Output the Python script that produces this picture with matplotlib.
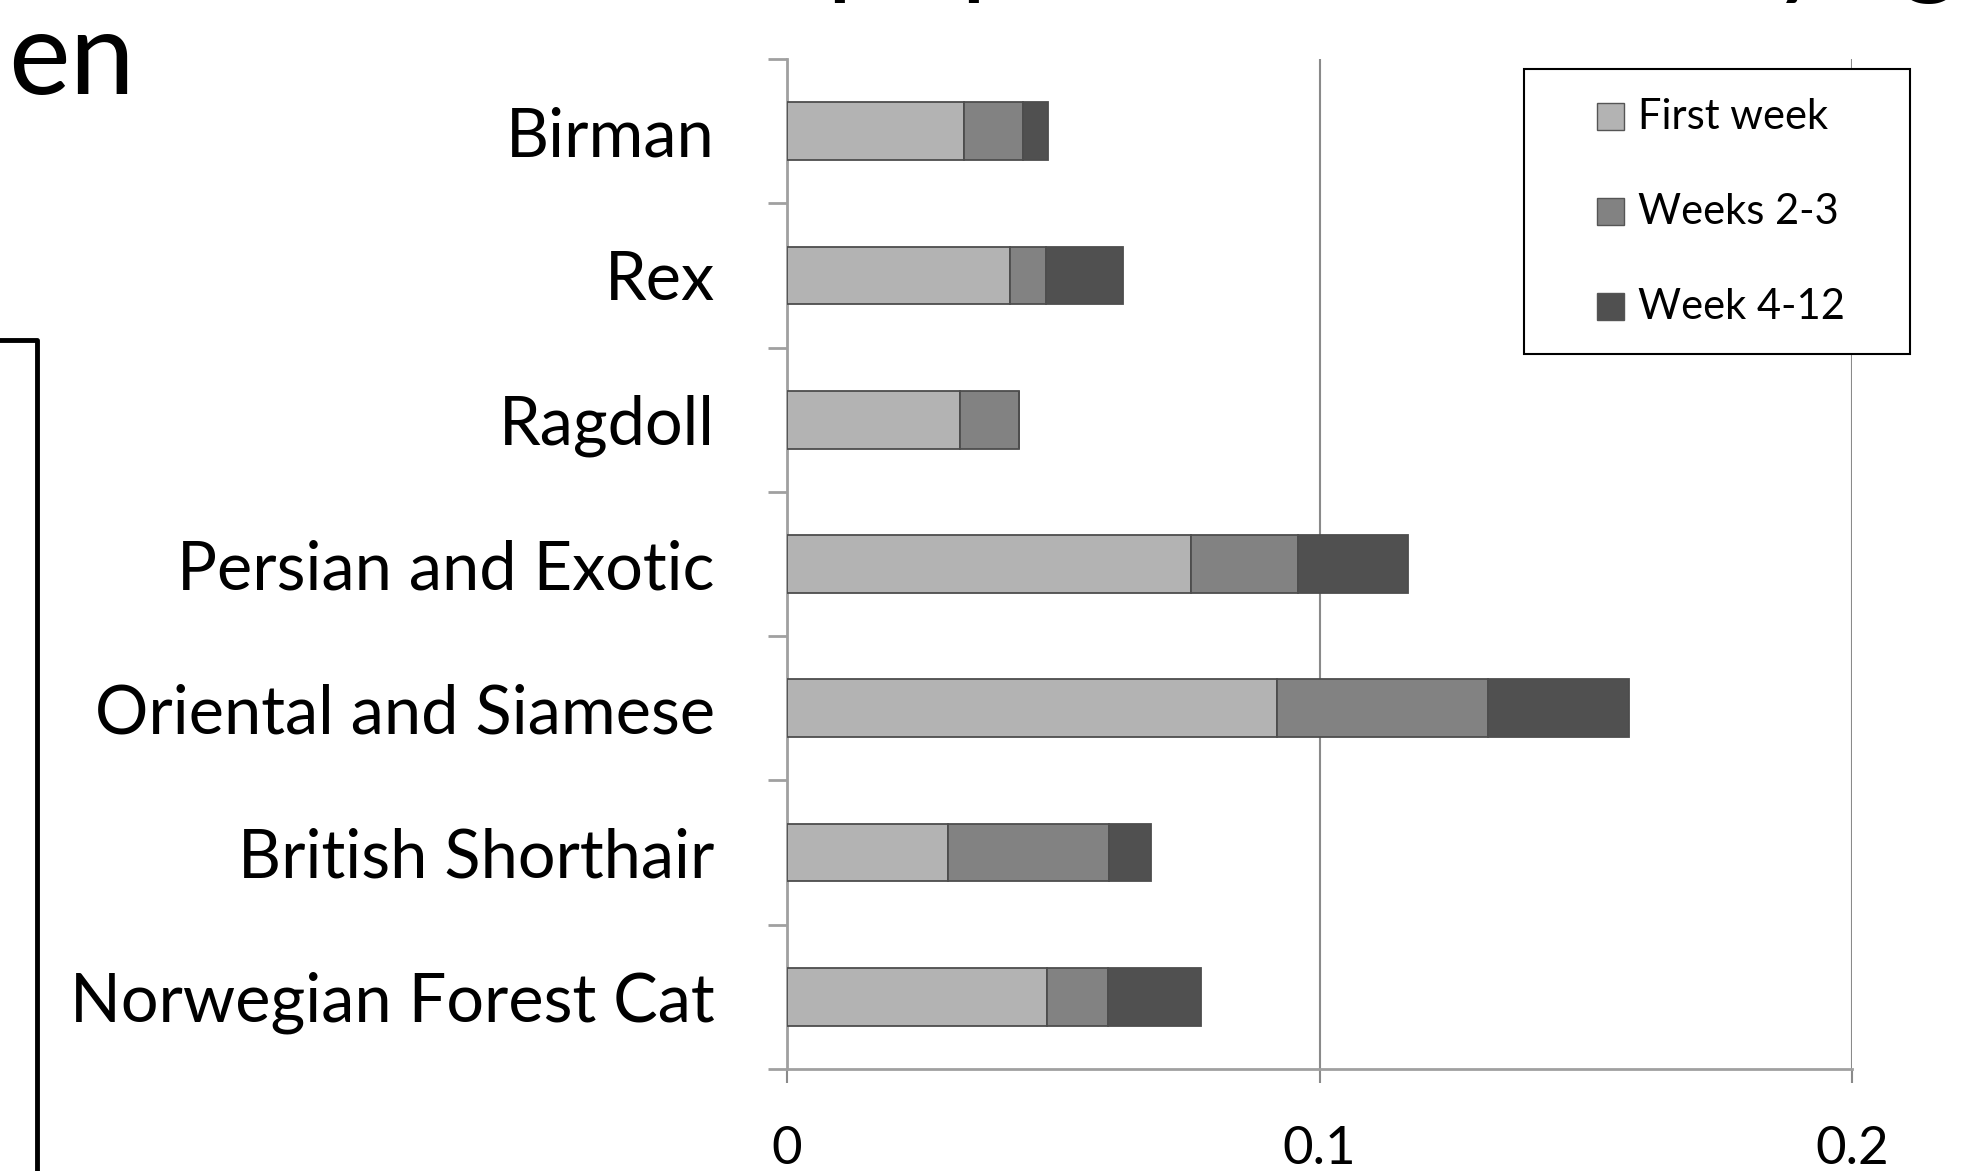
import numpy as np
import matplotlib
matplotlib.use("Agg")
import matplotlib.pyplot as plt
from matplotlib.patches import Rectangle
from matplotlib.lines import Line2D

plt.rcParams["font.family"] = ["Lato", "DejaVu Sans"]

# breeds listed bottom to top as they appear on the chart
breeds = ["Norwegian Forest Cat", "British Shorthair", "Oriental and Siamese",
          "Persian and Exotic", "Ragdoll", "Rex", "Birman"]
first_week = [0.0488, 0.0302, 0.0920, 0.0758, 0.0325, 0.0419, 0.0332]
weeks_2_3 = [0.0114, 0.0303, 0.0396, 0.0202, 0.0110, 0.0068, 0.0111]
week_4_12 = [0.0175, 0.0078, 0.0265, 0.0207, 0.0000, 0.0144, 0.0047]
series_names = ["First week", "Weeks 2-3", "Week 4-12"]
series_colors = ["#b3b3b3", "#828282", "#505050"]
x_ticks = [0, 0.1, 0.2]
x_tick_labels = ["0", "0.1", "0.2"]

W, H, DPI = 1961, 1171, 100
fig = plt.figure(figsize=(W / DPI, H / DPI), dpi=DPI)


def fx(px):
    return px / W


def fy(py):
    return 1 - py / H


ax = fig.add_axes([fx(787), fy(1069), fx(1852) - fx(787), fy(59) - fy(1069)])

y = np.arange(len(breeds))
left = np.zeros(len(breeds))
for vals, name, col in zip([first_week, weeks_2_3, week_4_12], series_names, series_colors):
    vals = np.array(vals)
    ax.barh(y, vals, left=left, height=0.4, color=col, edgecolor="#4d4d4d",
            linewidth=1.3, label=name, zorder=3)
    left += vals

ax.set_xlim(0, 0.2)
ax.set_ylim(-0.5, len(breeds) - 0.5)

grid_col = "#8a8a8a"
ax.set_xticks(x_ticks)
ax.set_xticklabels(x_tick_labels, fontsize=38)
ax.xaxis.grid(True, color=grid_col, linewidth=1.5, zorder=0)
ax.tick_params(axis="x", length=10, width=1.5, color=grid_col, pad=31)

ax.set_yticks(y)
ax.set_yticklabels(breeds, fontsize=48)
ax.set_yticks(np.arange(len(breeds) + 1) - 0.5, minor=True)
ax.tick_params(axis="y", which="major", length=0, pad=52)
ax.tick_params(axis="y", which="minor", length=14, width=2, color="#a0a0a0")

for side in ["top", "right"]:
    ax.spines[side].set_visible(False)
for side in ["left", "bottom"]:
    ax.spines[side].set_color("#a0a0a0")
    ax.spines[side].set_linewidth(2)

# legend box drawn by hand
fig.add_artist(Rectangle((fx(1524), fy(354)), fx(1910) - fx(1524), fy(69) - fy(354),
                         transform=fig.transFigure, facecolor="white",
                         edgecolor="black", linewidth=1.5, zorder=5))
for i, (name, col) in enumerate(zip(series_names, series_colors)):
    cy = 117 + i * 95
    fig.add_artist(Rectangle((fx(1597), fy(cy + 13)), fx(27), 27 / H,
                             transform=fig.transFigure, facecolor=col,
                             edgecolor="#555555", linewidth=1, zorder=6))
    fig.text(fx(1638), fy(cy), name, fontsize=30, va="center", ha="left", zorder=6)

# pieces of the slide around the chart
fig.text(fx(8), fy(94), "en", fontsize=84, va="baseline", ha="left")
for px, ch in [(826, "p"), (960, "p"), (1772, "y"), (1900, "g")]:
    fig.text(fx(px), fy(-16), ch, fontsize=80, va="baseline", ha="left")
fig.add_artist(Line2D([0, fx(37), fx(37)], [fy(340), fy(340), 0],
                      transform=fig.transFigure, color="black", linewidth=3.5))

fig.savefig("out.png", dpi=DPI)
